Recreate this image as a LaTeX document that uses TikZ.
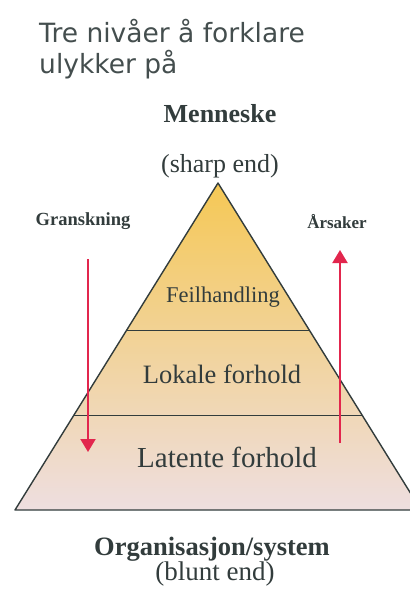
\documentclass[tikz,border=0pt]{standalone}
\usepackage{fontspec}
\setmainfont{Liberation Serif}
\newfontfamily\titlefont{DejaVu Sans}
\usetikzlibrary{arrows.meta,calc}
\definecolor{inkgrey}{RGB}{50,60,60}
\definecolor{titlegrey}{RGB}{68,78,78}
\definecolor{arrowred}{RGB}{226,38,77}
\definecolor{topyellow}{RGB}{245,200,85}
\definecolor{midtan}{RGB}{236,214,170}
\definecolor{lowpink}{RGB}{238,222,224}

\begin{document}
\begin{tikzpicture}[x=1pt,y=-1pt,
    lvl/.style={anchor=base,text=inkgrey},
    head/.style={anchor=base,text=inkgrey,font=\bfseries},
    redarrow/.style={draw=arrowred,line width=2pt,-{Triangle[width=15pt,length=13pt]}}]
    % Frame
    \clip (0,0) rectangle (410,590);
    % Pyramid corners
    \coordinate (apex) at (218,183);
    \coordinate (bl) at (15,510);
    \coordinate (br) at (421,510);
    \shade[top color=topyellow,middle color=midtan,bottom color=lowpink]
      (apex) -- (br) -- (bl) -- cycle;
    % Level borders
    \coordinate (l1) at ($(apex)!0.4495!(bl)$);
    \coordinate (r1) at ($(apex)!0.4495!(br)$);
    \coordinate (l2) at ($(apex)!0.7095!(bl)$);
    \coordinate (r2) at ($(apex)!0.7095!(br)$);
    \draw[inkgrey,line width=0.8pt] (l1) -- (r1);
    \draw[inkgrey,line width=0.8pt] (l2) -- (r2);
    \draw[inkgrey,line width=1.4pt,line join=round] (apex) -- (br) -- (bl) -- cycle;
    % Title
    \node[anchor=base west,text=titlegrey,font=\titlefont\fontsize{26.5}{31}\selectfont,
      align=left,inner sep=0pt] (title) at (39,73) {Tre nivåer å forklare\\ulykker på};
    % Top and bottom labels
    \node[head,font=\bfseries\fontsize{26}{30}\selectfont] (menneske) at (220,122) {Menneske};
    \node[lvl,font=\fontsize{26}{30}\selectfont] (sharp) at (220,172) {(sharp end)};
    \node[head,font=\bfseries\fontsize{26.5}{30}\selectfont] (org) at (212,555) {Organisasjon/system};
    \node[lvl,font=\fontsize{27}{30}\selectfont] (blunt) at (215,580) {(blunt end)};
    % Levels
    \node[lvl,font=\fontsize{22.5}{26}\selectfont] (feil) at (223,302) {Feilhandling};
    \node[lvl,font=\fontsize{26.5}{30}\selectfont] (lokale) at (222,383) {Lokale forhold};
    \node[lvl,font=\fontsize{29}{32}\selectfont] (latente) at (227,467) {Latente forhold};
    % Side labels and arrows
    \node[head,font=\bfseries\fontsize{18.5}{22}\selectfont] (gransk) at (83,225) {Granskning};
    \node[head,font=\bfseries\fontsize{17}{20}\selectfont] (arsaker) at (337,228) {Årsaker};
    \coordinate (gtop) at (88,259);
    \coordinate (gbot) at (88,452);
    \coordinate (abot) at (340,443);
    \coordinate (atop) at (340,250);
    \draw[redarrow] (gtop) -- (gbot);
    \draw[redarrow] (abot) -- (atop);
\end{tikzpicture}
\end{document}
